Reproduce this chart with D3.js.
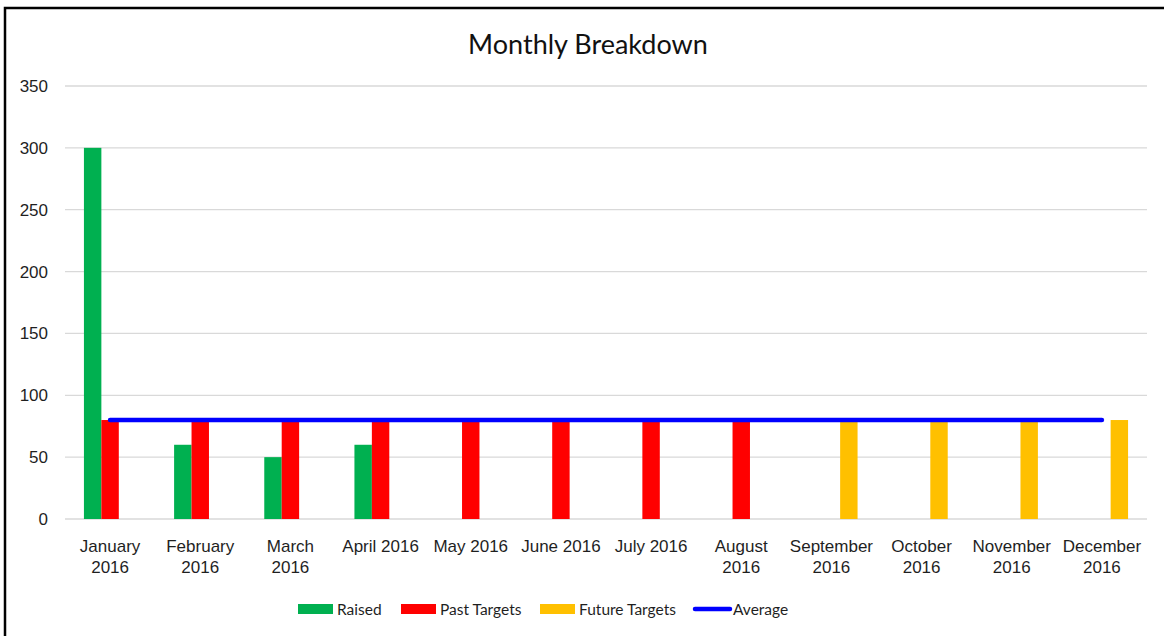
<!DOCTYPE html>
<html>
<head>
<meta charset="utf-8">
<script src="https://cdn.jsdelivr.net/npm/d3@7"></script>
<style>
  html, body { margin: 0; padding: 0; background: #fff; }
  svg { display: block; font-family: Lato, "Noto Sans", sans-serif; }
</style>
</head>
<body>
<div id="chart"></div>
<script>
// Chart data
const months = ["January 2016", "February 2016", "March 2016", "April 2016", "May 2016", "June 2016",
    "July 2016", "August 2016", "September 2016", "October 2016", "November 2016", "December 2016"];
const raised = [300, 60, 50, 60, null, null, null, null, null, null, null, null];
const pastTargets = [80, 80, 80, 80, 80, 80, 80, 80, null, null, null, null];
const futureTargets = [null, null, null, null, null, null, null, null, 80, 80, 80, 80];
const average = [80, 80, 80, 80, 80, 80, 80, 80, 80, 80, 80, 80];
const yTicks = [0, 50, 100, 150, 200, 250, 300, 350];

const barSeries = [
    { name: "Raised", values: raised, color: "#00B050" },
    { name: "Past Targets", values: pastTargets, color: "#FF0000" },
    { name: "Future Targets", values: futureTargets, color: "#FFC000" }
];
const lineColor = "#0000FF";

const width = 1164;
const height = 636;
const margin = { top: 86, right: 17, bottom: 117, left: 65 };

const svg = d3.select("#chart")
    .append("svg")
    .attr("width", width)
    .attr("height", height);

// Outer frame (only left and top edges are visible in the picture)
svg.append("rect")
    .attr("x", 5)
    .attr("y", 8)
    .attr("width", 1300)
    .attr("height", 800)
    .attr("fill", "none")
    .attr("stroke", "#000")
    .attr("stroke-width", 2.5);

// Scales
const x0 = d3.scaleBand()
    .domain(months)
    .range([margin.left, width - margin.right])
    .paddingInner(0)
    .paddingOuter(0);

const groupWidth = x0.bandwidth() * 0.58;
const x1 = d3.scaleBand()
    .domain(barSeries.map(d => d.name))
    .range([(x0.bandwidth() - groupWidth) / 2, (x0.bandwidth() + groupWidth) / 2]);

const y = d3.scaleLinear()
    .domain([0, 350])
    .range([height - margin.bottom, margin.top]);

// Gridlines
svg.append("g")
    .attr("class", "grid")
    .selectAll("line")
    .data(yTicks)
    .enter().append("line")
    .attr("x1", margin.left)
    .attr("x2", width - margin.right)
    .attr("y1", d => y(d))
    .attr("y2", d => y(d))
    .attr("stroke", "#d9d9d9")
    .attr("stroke-width", 1.3);

// Y axis labels
const yAxis = svg.append("g")
    .attr("transform", `translate(${margin.left - 17},0)`)
    .call(d3.axisLeft(y).tickValues(yTicks).tickSize(0).tickPadding(0));
yAxis.select(".domain").remove();
yAxis.selectAll("text")
    .attr("fill", "#1f1f1f")
    .style("font-size", "17px");

// Bars
barSeries.forEach(s => {
    svg.append("g")
        .selectAll("rect")
        .data(months.map((m, i) => ({ month: m, value: s.values[i] })).filter(d => d.value != null))
        .enter().append("rect")
        .attr("x", d => x0(d.month) + x1(s.name))
        .attr("y", d => y(d.value))
        .attr("width", x1.bandwidth())
        .attr("height", d => y(0) - y(d.value))
        .attr("fill", s.color);
});

// Average line
const line = d3.line()
    .x((d, i) => x0(months[i]) + x0.bandwidth() / 2)
    .y(d => y(d));

svg.append("path")
    .datum(average)
    .attr("d", line)
    .attr("fill", "none")
    .attr("stroke", lineColor)
    .attr("stroke-width", 4.5)
    .attr("stroke-linecap", "round");

// X axis labels, wrapped like Excel when wider than the category
const xAxis = svg.append("g")
    .attr("transform", `translate(0,${y(0)})`)
    .call(d3.axisBottom(x0).tickSize(0).tickPadding(0));
xAxis.select(".domain").remove();
xAxis.selectAll("text")
    .attr("fill", "#1f1f1f")
    .style("font-size", "17px")
    .attr("y", 33)
    .attr("dy", null)
    .each(function(d) {
        const t = d3.select(this);
        if (this.getComputedTextLength() > x0.bandwidth() - 2) {
            const parts = d.split(" ");
            t.text(null);
            t.append("tspan").attr("x", 0).attr("y", 33).text(parts[0]);
            t.append("tspan").attr("x", 0).attr("y", 54).text(parts[1]);
        }
    });

// Title
svg.append("text")
    .attr("x", 588)
    .attr("y", 54)
    .attr("text-anchor", "middle")
    .attr("fill", "#111")
    .style("font-size", "27px")
    .text("Monthly Breakdown");

// Legend
const legendItems = [
    { name: "Raised", color: barSeries[0].color, type: "bar", x: 298 },
    { name: "Past Targets", color: barSeries[1].color, type: "bar", x: 401 },
    { name: "Future Targets", color: barSeries[2].color, type: "bar", x: 540 },
    { name: "Average", color: lineColor, type: "line", x: 694 }
];

const legend = svg.append("g").attr("class", "legend");
legendItems.forEach(item => {
    const g = legend.append("g").attr("transform", `translate(${item.x},609)`);
    if (item.type === "bar") {
        g.append("rect")
            .attr("x", 0)
            .attr("y", -5)
            .attr("width", 35)
            .attr("height", 10)
            .attr("fill", item.color);
    } else {
        g.append("line")
            .attr("x1", 1)
            .attr("x2", 36)
            .attr("y1", 0)
            .attr("y2", 0)
            .attr("stroke", item.color)
            .attr("stroke-width", 4.5)
            .attr("stroke-linecap", "round");
    }
    g.append("text")
        .attr("x", 39)
        .attr("y", 6)
        .attr("fill", "#1f1f1f")
        .style("font-size", "15.5px")
        .text(item.name);
});
</script>
</body>
</html>
